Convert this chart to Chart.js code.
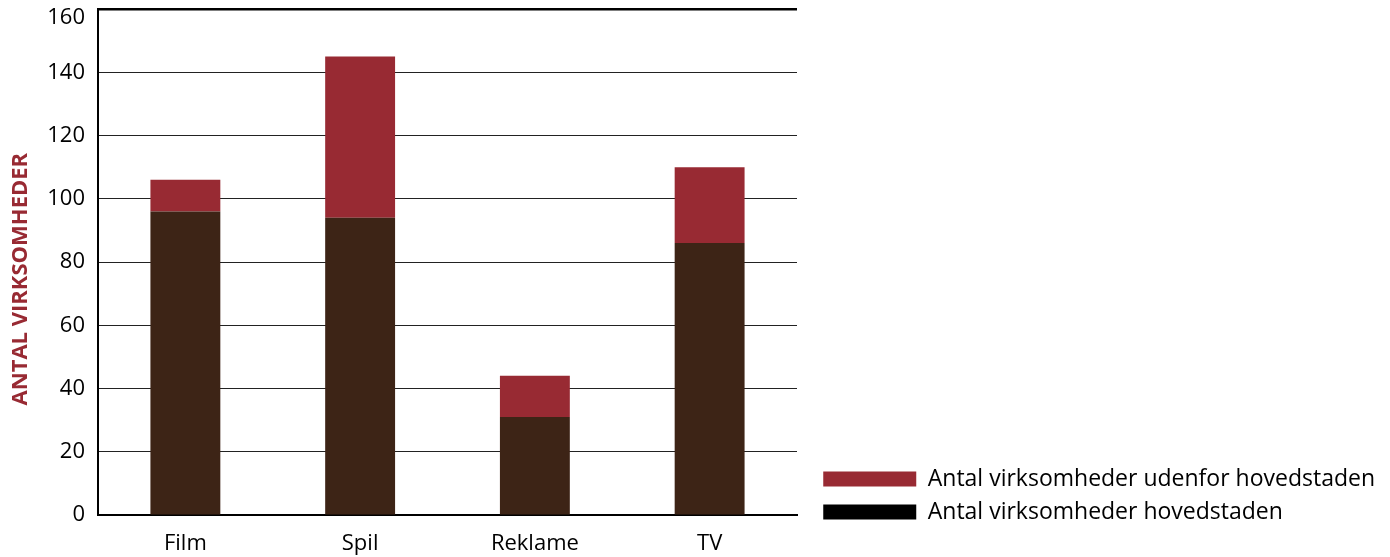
<!DOCTYPE html>
<html>
<head>
<meta charset="utf-8">
<script src="https://cdn.jsdelivr.net/npm/chart.js@4/dist/chart.umd.min.js"></script>
<style>
  html, body { margin: 0; padding: 0; background: #fff; }
  #wrap { width: 1390px; height: 557px; }
</style>
</head>
<body>
<div id="wrap"><canvas id="chart" width="1390" height="557"></canvas></div>
<script>
// Chart data
const categories = ['Film', 'Spil', 'Reklame', 'TV'];
const hovedstaden = [96, 94, 31, 86];
const udenfor = [10, 51, 13, 24];
const yTicks = [0, 20, 40, 60, 80, 100, 120, 140, 160];

const seriesNames = ['Antal virksomheder hovedstaden', 'Antal virksomheder udenfor hovedstaden'];
const red = '#982a33';
const brown = '#3d2416';
const fontFamily = '"Open Sans", "DejaVu Sans", sans-serif';
const legendSize = 23;
const legendPad = 10;
const rightPad = 5;

// width of the legend, so the spacer axis can leave the plot ending near x=797
const measure = document.createElement('canvas').getContext('2d');
measure.font = legendSize + 'px ' + fontFamily;
const legendTextWidth = Math.max(...seriesNames.map((s) => measure.measureText(s).width));
const legendWidth = legendPad + 93 + legendSize / 2 + legendTextWidth + 10;
const gapWidth = Math.max(0, 1390 - rightPad - legendWidth - 797);

const ctx = document.getElementById('chart');

new Chart(ctx, {
  type: 'bar',
  data: {
    labels: categories,
    datasets: [
      { label: seriesNames[0], data: hovedstaden, backgroundColor: brown },
      { label: seriesNames[1], data: udenfor, backgroundColor: red },
    ],
  },
  options: {
    responsive: false,
    animation: false,
    events: [],
    layout: { padding: { top: 9, bottom: 0, left: 0, right: rightPad } },
    datasets: { bar: { barPercentage: 0.4, categoryPercentage: 1 } },
    plugins: {
      tooltip: { enabled: false },
      legend: {
        position: 'right',
        align: 'start',
        reverse: true,
        maxWidth: 700,
        // empty title only pushes the two items down to the bottom right
        title: { display: true, text: '', font: { size: 10 }, padding: { top: 436.5, bottom: 0 } },
        labels: {
          boxWidth: 93,
          boxHeight: 15,
          padding: legendPad,
          color: '#000',
          font: { family: fontFamily, size: legendSize },
          generateLabels: (chart) => {
            const items = Chart.defaults.plugins.legend.labels.generateLabels(chart);
            items.forEach((item) => {
              item.fillStyle = item.datasetIndex === 0 ? '#000' : red;
              item.strokeStyle = item.fillStyle;
              item.lineWidth = 0;
            });
            return items;
          },
        },
      },
    },
    scales: {
      x: {
        stacked: true,
        grid: { display: false, drawTicks: false },
        border: { display: true, color: '#000', width: 2 },
        ticks: { color: '#000', font: { family: fontFamily, size: 22 }, padding: 16 },
        afterFit: (scale) => {
          scale.height = 42;
          scale.paddingLeft = 0;
          scale.paddingRight = 0;
        },
      },
      y: {
        stacked: true,
        min: 0,
        max: 160,
        afterBuildTicks: (scale) => { scale.ticks = yTicks.map((v) => ({ value: v })); },
        grid: {
          drawTicks: false,
          color: (c) => (c.tick && c.tick.value === 160 ? '#000' : '#222'),
          lineWidth: (c) => (c.tick && c.tick.value === 160 ? 2.5 : 1),
        },
        border: { display: true, color: '#000', width: 2 },
        ticks: {
          color: '#000',
          padding: 13,
          // top label sits a little below its line so it is not cut off
          callback: (v) => (v === 160 ? ['', String(v)] : String(v)),
          font: (c) => ({
            family: fontFamily,
            size: 22,
            lineHeight: c.tick && c.tick.value === 160 ? '18px' : 1.2,
          }),
        },
        title: {
          display: true,
          text: 'ANTAL VIRKSOMHEDER\u00a0\u00a0\u00a0\u00a0\u00a0\u00a0',
          color: red,
          font: { family: fontFamily, size: 22, weight: 'bold' },
          padding: { top: 8, bottom: 0 },
        },
        afterFit: (scale) => {
          scale.width = 98;
          scale.paddingTop = 0;
          scale.paddingBottom = 0;
        },
      },
      // empty spacer between the plot and the legend
      gap: {
        type: 'linear',
        position: 'right',
        grid: { display: false },
        border: { display: false },
        ticks: { display: false },
        afterFit: (scale) => { scale.width = gapWidth; },
      },
    },
  },
});
</script>
</body>
</html>
